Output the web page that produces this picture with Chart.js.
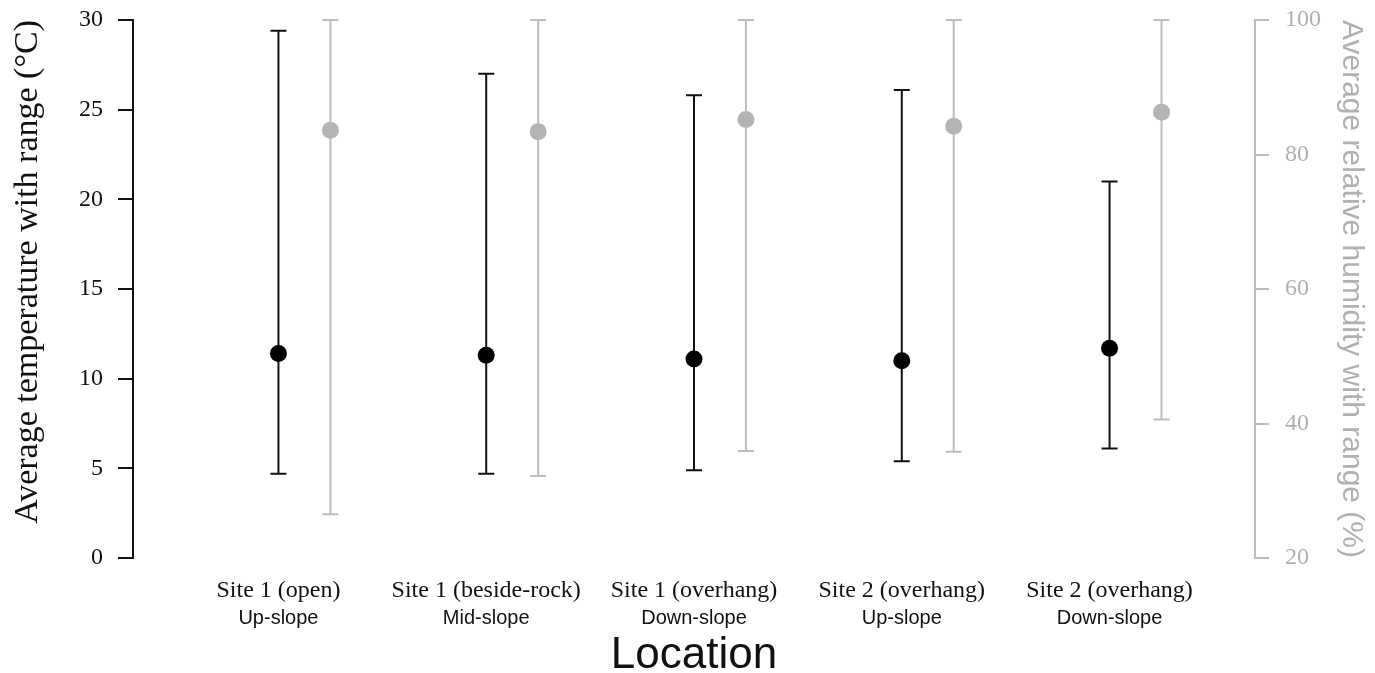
<!DOCTYPE html>
<html>
<head>
<meta charset="utf-8">
<script src="https://cdn.jsdelivr.net/npm/chart.js@4.4.1/dist/chart.umd.min.js"></script>
<style>
 html,body{margin:0;padding:0;background:#fff;}
 #wrap{width:1375px;height:673px;}
</style>
</head>
<body>
<div id="wrap"><canvas id="chart"></canvas></div>
<script>
// data
const sites=["Site 1 (open)","Site 1 (beside-rock)","Site 1 (overhang)","Site 2 (overhang)","Site 2 (overhang)"];
const slopes=["Up-slope","Mid-slope","Down-slope","Up-slope","Down-slope"];
const tempMean=[11.4,11.3,11.1,11.0,11.7];
const tempMin=[4.7,4.7,4.9,5.4,6.1];
const tempMax=[29.4,27.0,25.8,26.1,21.0];
const humMean=[83.6,83.4,85.2,84.2,86.3];
const humMin=[26.5,32.2,35.9,35.8,40.6];
const humMax=[100,100,100,100,100];
const tempTicks=[0,5,10,15,20,25,30];
const humTicks=[20,40,60,80,100];

const BLACK="#111";
const GREY="#bdbdbd";
const GREY_DOT="#b4b4b4";
const GREY_TXT="#b0b0b0";
const OFF=0.25;

const errorBars={
 id:"errorBars",
 beforeDatasetsDraw(c){
  const ctx=c.ctx, xs=c.scales.x;
  const draw=(mins,maxs,yScale,shift,col)=>{
   ctx.save();
   ctx.strokeStyle=col;ctx.lineWidth=2;
   mins.forEach((lo,i)=>{
    const x=xs.getPixelForValue(i+1+shift);
    const y1=yScale.getPixelForValue(lo), y2=yScale.getPixelForValue(maxs[i]);
    ctx.beginPath();
    ctx.moveTo(x,y1);ctx.lineTo(x,y2);
    ctx.moveTo(x-8,y1);ctx.lineTo(x+8,y1);
    ctx.moveTo(x-8,y2);ctx.lineTo(x+8,y2);
    ctx.stroke();
   });
   ctx.restore();
  };
  draw(humMin,humMax,c.scales.y2,OFF,GREY);
  draw(tempMin,tempMax,c.scales.y,0,BLACK);
 }
};

const tickSet=(list)=>function(s){s.ticks=list.map(v=>({value:v}));};
const fitTo=(w,h)=>function(s){
 if(w)s.width=w;
 if(h)s.height=h;
 s.paddingTop=0;s.paddingBottom=0;s.paddingLeft=0;s.paddingRight=0;
};

new Chart(document.getElementById("chart"),{
 type:"scatter",
 data:{datasets:[
  {data:humMean.map((v,i)=>({x:i+1+OFF,y:v})),yAxisID:"y2",xAxisID:"x",
   pointRadius:8.5,pointBackgroundColor:GREY_DOT,pointBorderWidth:0},
  {data:tempMean.map((v,i)=>({x:i+1,y:v})),yAxisID:"y",xAxisID:"x",
   pointRadius:8.5,pointBackgroundColor:"#000",pointBorderWidth:0}
 ]},
 options:{
  responsive:true,maintainAspectRatio:false,animation:false,
  events:[],
  layout:{padding:{top:20,left:0,right:0,bottom:0}},
  plugins:{legend:{display:false},tooltip:{enabled:false}},
  scales:{
   x:{type:"linear",position:"bottom",min:0.3,max:5.7,
    afterBuildTicks:tickSet(sites.map((s,i)=>i+1)),
    afterFit:fitTo(0,48),
    grid:{display:false,tickLength:0},border:{display:false},
    ticks:{maxRotation:0,autoSkip:false,padding:18,color:BLACK,
     font:{family:"Liberation Serif",size:24},
     callback:v=>sites[v-1]}},
   x2:{type:"linear",position:"bottom",min:0.3,max:5.7,
    afterBuildTicks:tickSet(slopes.map((s,i)=>i+1)),
    afterFit:fitTo(0,67),
    grid:{display:false,tickLength:0},border:{display:false},
    ticks:{maxRotation:0,autoSkip:false,padding:0,color:BLACK,
     font:{family:"Liberation Sans",size:20},
     callback:v=>slopes[v-1]},
    title:{display:true,text:"Location",color:BLACK,padding:{top:2,bottom:0},
     font:{family:"Liberation Sans",size:44,lineHeight:0.8}}},
   y:{type:"linear",position:"left",min:0,max:30,
    afterBuildTicks:tickSet(tempTicks),
    afterFit:fitTo(133,0),
    border:{display:true,color:BLACK,width:2},
    grid:{drawOnChartArea:false,drawTicks:true,tickLength:15,color:BLACK,lineWidth:2},
    ticks:{color:BLACK,padding:15,font:{family:"Liberation Serif",size:24}},
    title:{display:true,align:"end",text:"Average temperature with range (°C)",color:BLACK,padding:{top:8,bottom:0},
     font:{family:"Liberation Serif",size:34}}},
   y2:{type:"linear",position:"right",min:20,max:100,
    afterBuildTicks:tickSet(humTicks),
    afterFit:fitTo(120,0),
    border:{display:true,color:GREY,width:2},
    grid:{drawOnChartArea:false,drawTicks:true,tickLength:14,color:GREY,lineWidth:2},
    ticks:{color:GREY_TXT,padding:16,font:{family:"Liberation Serif",size:24}},
    title:{display:true,text:"Average relative humidity with range (%)",color:GREY_TXT,padding:{top:6,bottom:0},
     font:{family:"Liberation Sans",size:30}}}
  }
 },
 plugins:[errorBars]
});
</script>
</body>
</html>
